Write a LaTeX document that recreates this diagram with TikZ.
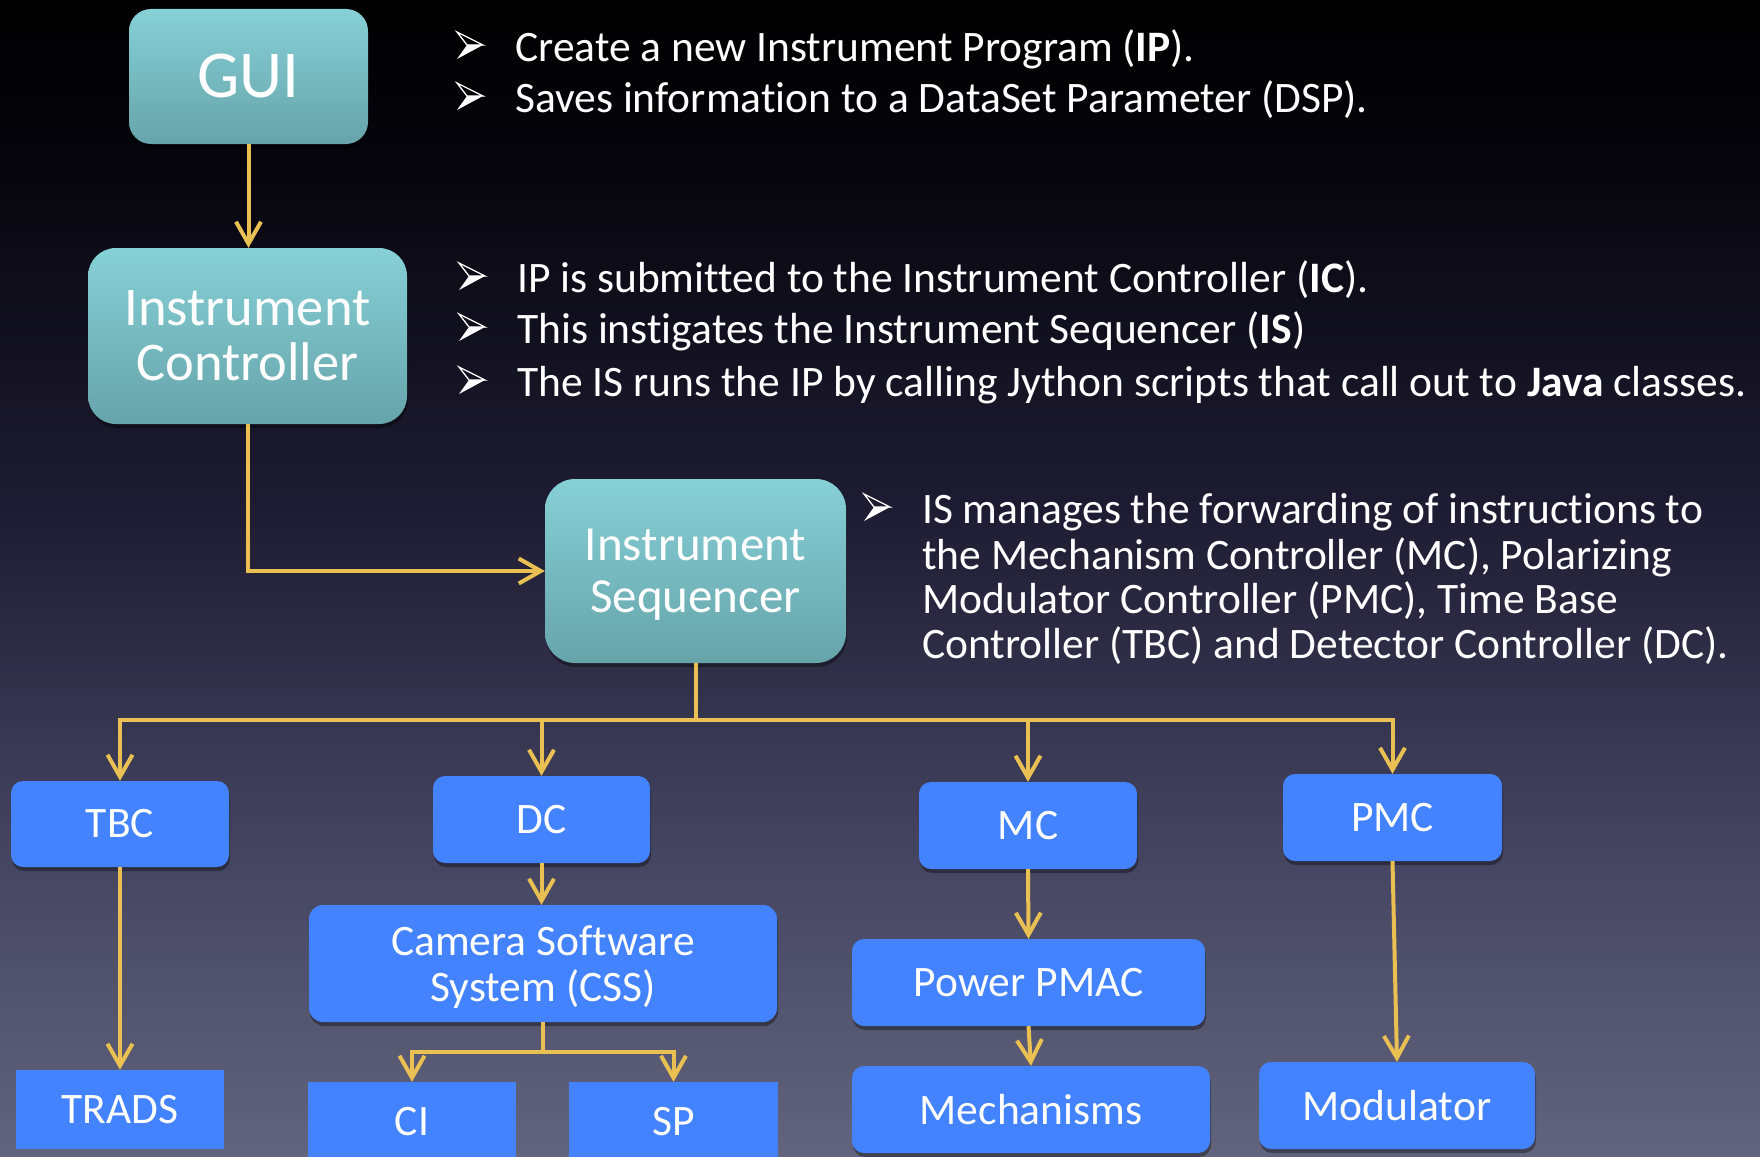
\documentclass[tikz,border=0pt]{standalone}
\usepackage{fontspec}
\setmainfont{Carlito}[Ligatures=NoCommon]
\usetikzlibrary{arrows.meta,shadows}
\definecolor{tealT}{RGB}{134,208,214}
\definecolor{tealB}{RGB}{102,164,170}
\definecolor{boxblue}{RGB}{68,131,255}
\definecolor{arrowyel}{RGB}{234,192,82}
\definecolor{bgB}{RGB}{98,100,125}
\definecolor{bgMa}{RGB}{64,64,92}
\definecolor{bgMb}{RGB}{30,28,50}
\definecolor{bgMc}{RGB}{6,5,12}
\pgfdeclareverticalshading{bgshade}{100bp}{color(0bp)=(bgB); color(25bp)=(bgB); color(40bp)=(bgMa); color(53bp)=(bgMb); color(68bp)=(bgMc); color(75bp)=(black); color(100bp)=(black)}
\begin{document}
\begin{tikzpicture}[x=1pt,y=-1pt,
  shad/.style={drop shadow={shadow xshift=1pt,shadow yshift=-4pt,opacity=0.35,fill=black}},
  tealbox/.style={rectangle,top color=tealT,bottom color=tealB,text=white,align=center,inner sep=0pt,shad},
  bluebox/.style={rectangle,fill=boxblue,rounded corners=12pt,text=white,align=center,inner sep=0pt,font=\fontsize{43.5}{46}\selectfont,shad},
  sqbox/.style={rectangle,fill=boxblue,text=white,align=center,inner sep=0pt,font=\fontsize{43.5}{46}\selectfont},
  conn/.style={draw=arrowyel,line width=4pt},
  arr/.style={conn,-{Straight Barb[length=22pt,width=25pt]}},
  btxt/.style={anchor=base west,text=white,inner sep=0pt,font=\fontsize{43.5}{50}\selectfont},
  pics/bularrow/.style={code={
    \fill[white] (0,-2) -- (26,-16) -- (10,-16) -- cycle;
    \draw[white,line width=1.3pt,line join=miter] (0,-29) -- (26,-16) -- (10,-16) -- cycle;
  }}]
\useasboundingbox (0,0) rectangle (1760,1156);
\clip (0,0) rectangle (1760,1156);
\shade[shading=bgshade] (0,0) rectangle (1760,1156);

% top boxes
\node[tealbox,rounded corners=22pt,minimum width=239pt,minimum height=135pt,font=\fontsize{67}{67}\selectfont] (gui) at (248.5,76.5) {GUI};
\node[tealbox,rounded corners=28pt,minimum width=319pt,minimum height=176pt,font=\fontsize{54.5}{55}\selectfont] (ic) at (247.5,336) {Instrument\\Controller};
\node[tealbox,rounded corners=30pt,minimum width=301pt,minimum height=184pt,text depth=0pt,font=\fontsize{49}{52}\selectfont] (is) at (695.5,571) {Instrument\\Sequencer};

% lower boxes
\node[bluebox,minimum width=218pt,minimum height=86pt] (tbc) at (120,824) {TBC};
\node[bluebox,minimum width=217pt,minimum height=87pt] (dc) at (541.5,819.5) {DC};
\node[bluebox,rounded corners=14pt,minimum width=468pt,minimum height=117pt,text depth=0pt] (css) at (543,963.5) {Camera Software\\System (CSS)};
\node[sqbox,minimum width=208pt,minimum height=79pt] (trads) at (120,1109.5) {TRADS};
\node[sqbox,minimum width=208pt,minimum height=79pt] (ci) at (412,1121.5) {CI};
\node[sqbox,minimum width=209pt,minimum height=79pt] (sp) at (673.5,1121.5) {SP};
\node[bluebox,minimum width=218pt,minimum height=87pt] (mc) at (1028,825.5) {MC};
\node[bluebox,minimum width=219pt,minimum height=87pt] (pmc) at (1392.5,817.5) {PMC};
\node[bluebox,minimum width=353pt,minimum height=87pt] (ppmac) at (1028.5,982.5) {Power PMAC};
\node[bluebox,minimum width=358pt,minimum height=87pt] (mech) at (1031,1109.5) {Mechanisms};
\node[bluebox,minimum width=276pt,minimum height=87pt] (mod) at (1397,1105.5) {Modulator};

% connectors
\draw[arr] (gui.south) -- (gui.south |- ic.north);
\draw[arr] (ic.south) |- (is.west);
\coordinate (jn) at (695.5,720);
\draw[arr] (is.south) -- (jn) -| (tbc.north);
\draw[arr] (jn) -| (dc.north);
\draw[arr] (jn) -| (mc.north);
\draw[arr] (jn) -| (pmc.north);
\draw[arr] (tbc.south) -- (trads.north);
\draw[arr] (dc.south) -- (dc.south |- css.north);
\coordinate (jc) at (543,1052);
\draw[arr] (css.south) -- (jc) -| (ci.north);
\draw[arr] (jc) -| (sp.north);
\draw[arr] (mc.south) -- (ppmac.north);
\draw[arr] (ppmac.south) -- (mech.north);
\draw[arr] (pmc.south) -- (mod.north);

% bullet texts
\pic at (457,61) {bularrow};
\node[btxt] (t1) at (515,61) {Create a new Instrument Program (\textbf{IP}).};
\pic at (457,112) {bularrow};
\node[btxt] (t2) at (515,112) {Saves information to a DataSet Parameter (DSP).};
\pic at (459,292) {bularrow};
\node[btxt] (t3) at (517,292) {IP is submitted to the Instrument Controller (\textbf{IC}).};
\pic at (459,343) {bularrow};
\node[btxt] (t4) at (517,343) {This instigates the Instrument Sequencer (\textbf{IS})};
\pic at (459,396) {bularrow};
\node[btxt] (t5) at (517,396) {The IS runs the IP by calling Jython scripts that call out to \textbf{Java} classes.};
\pic at (864,523) {bularrow};
\node[btxt] (t6) at (922,523) {IS manages the forwarding of instructions to};
\node[btxt] (t7) at (922,569) {the Mechanism Controller (MC), Polarizing};
\node[btxt] (t8) at (922,613) {Modulator Controller (PMC), Time Base};
\node[btxt] (t9) at (922,658) {Controller (TBC) and Detector Controller (DC).};
\end{tikzpicture}
\end{document}
